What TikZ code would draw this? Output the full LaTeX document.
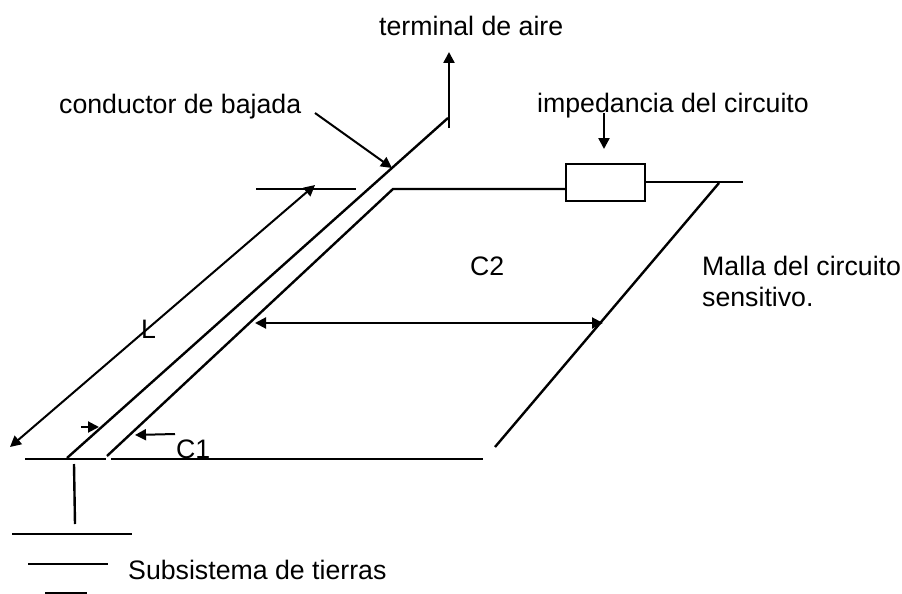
\documentclass[tikz,border=0pt]{standalone}
\usepackage{fontspec}
\setmainfont{Liberation Sans}
\usetikzlibrary{arrows.meta}
\tikzset{
  wire/.style={line width=2.4pt,black},
  thin wire/.style={line width=2pt,black},
  tip/.style={-{Triangle[length=11pt,width=11pt]}},
  tips/.style={{Triangle[length=11pt,width=11pt]}-{Triangle[length=11pt,width=11pt]}},
  lab/.style={font=\fontsize{26.7}{30}\selectfont,inner sep=0pt,anchor=base west,black}
}
\begin{document}
\begin{tikzpicture}[x=1pt,y=-1pt]
\useasboundingbox (0,0) rectangle (902,594);
% labels
\node[lab] (t1) at (379,36) {terminal de aire};
\node[lab] (t2) at (59,113) {conductor de bajada};
\node[lab] (t3) at (537,112) {impedancia del circuito};
\node[lab] (t4) at (702,275) {Malla del circuito};
\node[lab] (t5) at (702,306) {sensitivo.};
\node[lab] (t6) at (128,579) {Subsistema de tierras};
\node[lab] (c1) at (176,458) {C1};
\node[lab] (c2) at (470,275) {C2};
\node[lab] (ll) at (141,338) {L};
% coordinates
\coordinate (gA) at (25,459); \coordinate (gB) at (106,459);
\coordinate (gC) at (111,459); \coordinate (gD) at (483,459);
\coordinate (cA) at (67,458); \coordinate (cB) at (448,118);
\coordinate (vA) at (449,128); \coordinate (vB) at (449,52);
\coordinate (dA) at (107,456); \coordinate (dB) at (393,189);
\coordinate (eA) at (645,182); \coordinate (eB) at (743,182);
\coordinate (fA) at (719,183); \coordinate (fB) at (495,447);
\coordinate (hA) at (256,189); \coordinate (hB) at (356,189);
\coordinate (lA) at (10,447); \coordinate (lB) at (315,185);
\coordinate (wA) at (255,323); \coordinate (wB) at (603,323);
\coordinate (bA) at (315,113); \coordinate (bB) at (392,168);
\coordinate (iA) at (604,113); \coordinate (iB) at (604,149);
\coordinate (sA) at (81,427); \coordinate (sB) at (99,427);
\coordinate (kA) at (175,434); \coordinate (kB) at (135,435);
\coordinate (rA) at (74,464); \coordinate (rB) at (75,524);
\node[draw,line width=2.4pt,minimum width=79pt,minimum height=37pt,inner sep=0pt] (box) at (605.5,182.5) {};
% wires
\draw[wire] (gA) -- (gB);
\draw[wire] (gC) -- (gD);
\draw[wire] (cA) -- (cB);
\draw[wire,tip] (vA) -- (vB);
\draw[wire] (dA) -- (dB) -- (box.west |- dB);
\draw[wire] (box.east |- eA) -- (eB);
\draw[wire] (fA) -- (fB);
\draw[wire] (hA) -- (hB);
\draw[thin wire,tips] (lA) -- (lB);
\draw[thin wire,tips] (wA) -- (wB);
\draw[thin wire,tip] (bA) -- (bB);
\draw[wire,tip] (iA) -- (iB);
\draw[thin wire,tip] (sA) -- (sB);
\draw[thin wire,tip] (kA) -- (kB);
\draw[wire] (rA) -- (rB);
\coordinate (pA) at (12,534); \coordinate (pB) at (132,534);
\coordinate (qA) at (28,564); \coordinate (qB) at (108,564);
\coordinate (uA) at (45,593); \coordinate (uB) at (87,593);
\draw[wire] (pA) -- (pB);
\draw[wire] (qA) -- (qB);
\draw[wire] (uA) -- (uB);
\end{tikzpicture}
\end{document}
